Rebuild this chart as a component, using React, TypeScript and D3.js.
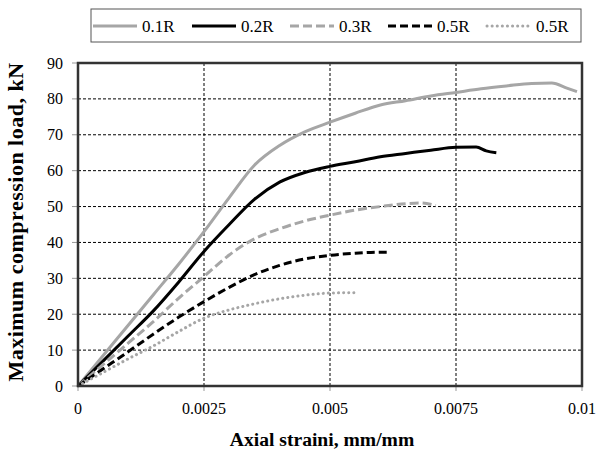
import * as d3 from 'd3'

const strain01 = [0, 0.0005, 0.001, 0.0015, 0.002, 0.0025, 0.003, 0.0035, 0.004, 0.0045, 0.005, 0.0055, 0.006, 0.0065, 0.007, 0.0075, 0.008, 0.0085, 0.009, 0.0094, 0.0097, 0.0099]
const load01 = [0, 8.5, 17, 25.5, 34, 43, 52.5, 61.5, 67, 70.8, 73.5, 76, 78.3, 79.5, 80.8, 81.8, 82.8, 83.6, 84.3, 84.4, 83, 82]

const strain02 = [0, 0.0005, 0.001, 0.0015, 0.002, 0.0025, 0.003, 0.0035, 0.004, 0.0045, 0.005, 0.0055, 0.006, 0.0065, 0.007, 0.0075, 0.0079, 0.0081, 0.0083]
const load02 = [0, 7, 14, 21, 29, 37.5, 45, 52, 56.8, 59.5, 61.2, 62.5, 63.9, 64.8, 65.7, 66.5, 66.6, 65.5, 65]

const strain03 = [0, 0.0005, 0.001, 0.0015, 0.002, 0.0025, 0.003, 0.0035, 0.004, 0.0045, 0.005, 0.0055, 0.006, 0.0065, 0.0068, 0.0071]
const load03 = [0, 6, 12, 18, 24.5, 30.5, 36.5, 41, 43.8, 46, 47.6, 49, 50, 50.8, 51, 50.3]

const strain05 = [0, 0.0005, 0.001, 0.0015, 0.002, 0.0025, 0.003, 0.0035, 0.004, 0.0045, 0.005, 0.0055, 0.006, 0.0062]
const load05 = [0, 4.8, 9.6, 14.5, 19.2, 23.5, 27.5, 31, 33.6, 35.4, 36.4, 37, 37.3, 37.3]

const strain05b = [0, 0.0005, 0.001, 0.0015, 0.002, 0.0025, 0.003, 0.0035, 0.004, 0.0045, 0.005, 0.0055]
const load05b = [0, 3.8, 7.6, 11.2, 15.2, 18.9, 21.2, 22.9, 24.3, 25.3, 25.9, 26]

const xTicks = [0, 0.0025, 0.005, 0.0075, 0.01]
const xTickLabels = ['0', '0.0025', '0.005', '0.0075', '0.01']
const yTicks = [0, 10, 20, 30, 40, 50, 60, 70, 80, 90]

const series = [
  { name: '0.1R', xs: strain01, ys: load01, color: '#a6a6a6', dash: null, cap: 'butt' },
  { name: '0.2R', xs: strain02, ys: load02, color: '#000000', dash: null, cap: 'butt' },
  { name: '0.3R', xs: strain03, ys: load03, color: '#a6a6a6', dash: '9,4', cap: 'butt' },
  { name: '0.5R', xs: strain05, ys: load05, color: '#000000', dash: '8,4', cap: 'butt' },
  { name: '0.5R', xs: strain05b, ys: load05b, color: '#a6a6a6', dash: '0.1,5', cap: 'round' },
]

const W = 597
const H = 450
const m = { left: 78, right: 582, top: 63, bottom: 386 }
const serif = { fontFamily: 'Liberation Serif, Times New Roman, Times, serif' }

export default function App() {
  const x = d3.scaleLinear().domain([0, 0.01]).range([m.left, m.right])
  const y = d3.scaleLinear().domain([0, 90]).range([m.bottom, m.top])
  const line = d3.line<[number, number]>()
    .x((d) => x(d[0]))
    .y((d) => y(d[1]))
    .curve(d3.curveMonotoneX)

  const legendX = [93, 192, 290, 388, 487]

  return (
    <svg width={W} height={H} style={{ position: 'absolute', left: 0, top: 0, background: '#fff' }}>
      {/* grid */}
      {yTicks.slice(1, -1).map((t) => (
        <line key={'gy' + t} x1={m.left} x2={m.right} y1={y(t)} y2={y(t)} stroke="#000" strokeWidth={1} strokeDasharray="3,2" />
      ))}
      {xTicks.slice(1, -1).map((t) => (
        <line key={'gx' + t} x1={x(t)} x2={x(t)} y1={m.top} y2={m.bottom} stroke="#000" strokeWidth={1} strokeDasharray="3,2" />
      ))}

      {/* ticks */}
      {yTicks.map((t) => (
        <g key={'ty' + t}>
          <line x1={m.left - 6} x2={m.left} y1={y(t)} y2={y(t)} stroke="#999" strokeWidth={1} />
          <text x={m.left - 15} y={y(t)} dy="0.35em" textAnchor="end" style={serif} fontSize={16}>{t}</text>
        </g>
      ))}
      {xTicks.map((t, i) => (
        <g key={'tx' + t}>
          <line x1={x(t)} x2={x(t)} y1={m.bottom} y2={m.bottom + 5} stroke="#999" strokeWidth={1} />
          <text x={x(t)} y={414} textAnchor="middle" style={serif} fontSize={16}>{xTickLabels[i]}</text>
        </g>
      ))}

      {/* curves */}
      {series.map((s, i) => (
        <path
          key={i}
          d={line(s.xs.map((v, j) => [v, s.ys[j]] as [number, number])) ?? ''}
          fill="none"
          stroke={s.color}
          strokeWidth={3}
          strokeDasharray={s.dash ?? undefined}
          strokeLinecap={s.cap as any}
        />
      ))}

      {/* frame */}
      <rect x={m.left} y={m.top} width={m.right - m.left} height={m.bottom - m.top} fill="none" stroke="#333" strokeWidth={2.5} />

      {/* legend */}
      <rect x={91} y={9} width={490} height={33} fill="#fff" stroke="#555" strokeWidth={1} />
      {series.map((s, i) => (
        <g key={'lg' + i}>
          <line x1={legendX[i]} x2={legendX[i] + 44} y1={26} y2={26} stroke={s.color} strokeWidth={3}
            strokeDasharray={s.dash ?? undefined} strokeLinecap={s.cap as any} />
          <text x={legendX[i] + 49} y={26} dy="0.35em" style={serif} fontSize={17}>{s.name}</text>
        </g>
      ))}

      {/* axis titles */}
      <text x={322} y={446} textAnchor="middle" style={serif} fontSize={19.6} fontWeight="bold">Axial straini, mm/mm</text>
      <text transform="translate(23,222) rotate(-90)" textAnchor="middle" style={serif} fontSize={22} letterSpacing={0.5} fontWeight="bold">
        Maximum compression load, kN
      </text>
    </svg>
  )
}
